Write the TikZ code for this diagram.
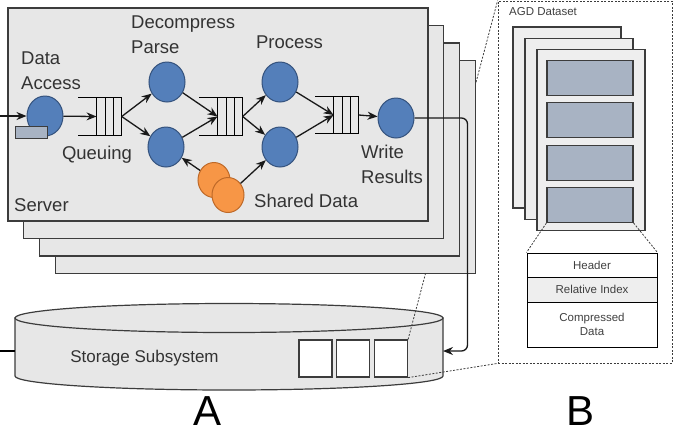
\documentclass[tikz,border=0pt]{standalone}
\usepackage{fontspec}
\setmainfont{Liberation Sans}
\usetikzlibrary{shapes.geometric,arrows.meta,calc}
\definecolor{nodeblue}{RGB}{84,127,186}
\definecolor{nodeblueedge}{RGB}{52,82,125}
\definecolor{shareorange}{RGB}{247,150,70}
\definecolor{shareorangeedge}{RGB}{190,105,40}
\definecolor{boxgray}{RGB}{231,231,231}
\definecolor{edgegray}{RGB}{60,60,60}
\definecolor{chunkblue}{RGB}{168,179,195}
\definecolor{pagegray}{RGB}{238,238,238}
\tikzstyle{server} = [rectangle, draw=edgegray, line width=1.2pt, fill=boxgray, minimum width=420pt, minimum height=213pt, inner sep=0]
\tikzstyle{worker} = [ellipse, draw=nodeblueedge, line width=1pt, fill=nodeblue, minimum width=36pt, minimum height=40pt, inner sep=0]
\tikzstyle{shared} = [ellipse, draw=shareorangeedge, line width=1pt, fill=shareorange, minimum width=32pt, minimum height=35pt, inner sep=0]
\tikzstyle{queue} = [rectangle, minimum width=43pt, minimum height=37pt, inner sep=0]
\tikzstyle{txt} = [font=\fontsize{18.5}{25}\selectfont, align=left, text=black!80, inner sep=0]
\tikzstyle{flow} = [-{Stealth[length=10pt,width=8pt]}, line width=1.3pt, draw=black!90]
\tikzstyle{zoomline} = [dash pattern=on 2pt off 1.5pt, line width=0.8pt, draw=edgegray]
\tikzstyle{slot} = [rectangle, draw=edgegray, line width=1.2pt, fill=white, minimum width=33pt, minimum height=37pt, inner sep=0]
\tikzstyle{page} = [rectangle, draw=edgegray, line width=1.2pt, fill=pagegray, minimum width=108pt, minimum height=181pt, inner sep=0]
\tikzstyle{chunk} = [rectangle, draw=edgegray, line width=1.2pt, fill=chunkblue, minimum width=86pt, minimum height=35pt, inner sep=0]
\tikzstyle{field} = [rectangle, draw=black, line width=1pt, minimum width=130pt, font=\fontsize{11.5}{14}\selectfont, text=black!75, align=center, inner sep=0]
% queue symbol drawn on a named node
\newcommand{\queuebars}[1]{
    \draw[line width=1.2pt] (#1.north west) -- (#1.north east) -- (#1.south east) -- (#1.south west);
    \foreach \f in {0.42,0.62,0.81}
        \draw[line width=1.2pt] ($(#1.north west)!\f!(#1.north east)$) -- ($(#1.south west)!\f!(#1.south east)$);
    \coordinate (#1in) at ($(#1.west)!0.42!(#1.east)$);
}

\begin{document}
\begin{tikzpicture}[x=1pt,y=-1pt]
\useasboundingbox (0,0) rectangle (675,432);

    % Panel B: AGD dataset
    \node (agd) at (585,182) [rectangle, zoomline, minimum width=174pt, minimum height=362pt] {};
    \node (agdtitle) at (509,12) [anchor=west, font=\fontsize{11.5}{14}\selectfont, text=black!75, inner sep=0] {AGD Dataset};
    \foreach \i in {2,1,0}
        \node (pg\i) at ({591-12*\i},{140-11.3*\i}) [page] {};
    \foreach \i in {1,...,4}
        \node (ch\i) at (590,{35.7+42.3*\i}) [chunk] {};

    \node (hdr) at (592,265) [field, minimum height=24pt] {Header};
    \node (idx) at (592,289.5) [field, minimum height=25pt, fill=pagegray] {Relative Index};
    \node (cmp) at (592,324.5) [field, minimum height=45pt] {Compressed\\Data};
    \draw[zoomline] (ch4.south west) -- (hdr.north west);
    \draw[zoomline] (ch4.south east) -- (hdr.north east);

    % Storage subsystem
    \filldraw[draw=edgegray, line width=1.2pt, fill=boxgray] (15,318) -- (15,376) arc[start angle=180, end angle=0, x radius=214, y radius=14] -- (443,318) -- cycle;
    \filldraw[draw=edgegray, line width=1.2pt, fill=boxgray] (229,318) ellipse [x radius=214, y radius=14.5];
    \node (storage) at (144.5,358) [txt, font=\fontsize{17}{20}\selectfont] {Storage Subsystem};
    \node (sq1) at (315.5,358.5) [slot] {};
    \node (sq2) at (353,358.5) [slot] {};
    \node (sq3) at (391,358.5) [slot] {};
    \coordinate (stleft) at (15,351);
    \coordinate (edgeL) at (0,351);
    \coordinate (stin) at (443,351);
    \draw[line width=1.2pt] (edgeL) -- (stleft);

    % zoom from storage to panel B
    \draw[zoomline] (sq3.north east) -- (agd.north west);
    \draw[zoomline] (sq3.south east) -- (agd.south west);

    % Panel A: stacked servers
    \foreach \i in {3,2,1,0}
        \node (srv\i) at ({218+15.8*\i},{114.5+17.5*\i}) [server] {};

    % Stage 1: data access
    \node (da) at (45,116) [worker] {};
    \node (disk) at (31,132) [rectangle, draw=edgegray, line width=1pt, fill=chunkblue, minimum width=32pt, minimum height=12pt, inner sep=0] {};
    \coordinate (src) at (0,116);
    \draw[flow] (src) -- (da);

    % Stage 2: queue + decompress / parse
    \node (q1) at (100,116.5) [queue] {};
    \queuebars{q1}
    \node (dp1) at (167,82) [worker] {};
    \node (dp2) at (166,147) [worker] {};
    \draw[flow] (da) -- (q1in);
    \draw[flow] (q1.east) -- (dp1);
    \draw[flow] (q1.east) -- (dp2);

    % Stage 3: queue + process
    \node (q2) at (221,116.5) [queue] {};
    \queuebars{q2}
    \node (pr1) at (280,82) [worker] {};
    \node (pr2) at (280,147) [worker] {};
    \draw[flow] (dp1) -- (q2in);
    \draw[flow] (dp2) -- (q2in);
    \draw[flow] (q2.east) -- (pr1);
    \draw[flow] (q2.east) -- (pr2);

    % Stage 4: queue + write results
    \node (q3) at (337,115) [queue] {};
    \queuebars{q3}
    \node (wr) at (396,118) [worker] {};
    \draw[flow] (pr1) -- (q3in);
    \draw[flow] (pr2) -- (q3in);
    \draw[flow] (q3.east) -- (wr);
    \draw[flow, rounded corners=6pt] (wr.east) -- ++(53,0) |- (stin);

    % Shared data
    \node (sd1) at (214,180) [shared] {};
    \node (sd2) at (228,195) [shared] {};
    \draw[flow] (sd1) -- (dp2);
    \draw[flow] (sd2) -- (pr2);

    % Labels
    \node (lda) at (21,71) [txt, anchor=west] {Data\\Access};
    \node (ldp) at (131,35) [txt, anchor=west] {Decompress\\Parse};
    \node (lq) at (97,155) [txt] {Queuing};
    \node (lsrv) at (14,205) [txt, anchor=west] {Server};
    \node (lpr) at (289.5,42) [txt] {Process};
    \node (lwr) at (361,164) [txt, anchor=west] {Write\\Results};
    \node (lsd) at (254,201) [txt, anchor=west] {Shared Data};

    \node (partA) at (208,411) [font=\fontsize{42}{44}\selectfont, inner sep=0] {A};
    \node (partB) at (581,411) [font=\fontsize{42}{44}\selectfont, inner sep=0] {B};

\end{tikzpicture}
\end{document}
